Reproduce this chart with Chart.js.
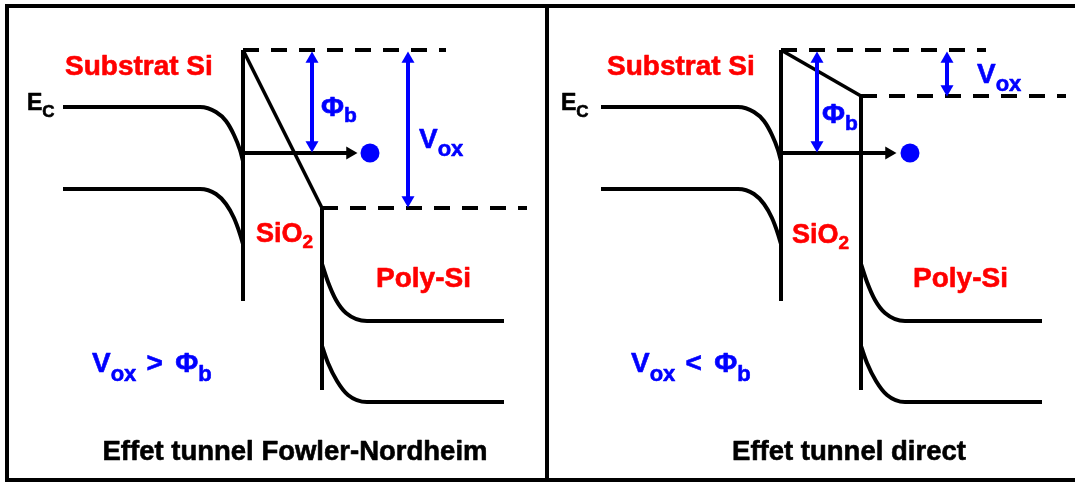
<!DOCTYPE html>
<html>
<head>
<meta charset="utf-8">
<title>Effet tunnel</title>
<script src="https://cdn.jsdelivr.net/npm/chart.js@4"></script>
<style>
  html, body { margin: 0; padding: 0; background: #fff; }
  #wrap { width: 1075px; height: 483px; }
</style>
</head>
<body>
<div id="wrap"><canvas id="bands" width="1075" height="483"></canvas></div>
<script>
// diagram coordinates (x to the right, y downward, same units as the picture)

// frame
const frameTop = [{ x: 5, y: 6 }, { x: 1075, y: 6 }];
const frameBottom = [{ x: 5, y: 480 }, { x: 1075, y: 480 }];
const frameLeft = [{ x: 7, y: 4 }, { x: 7, y: 482 }];
const frameDivider = [{ x: 547, y: 6 }, { x: 547, y: 480 }];

// --- Fowler-Nordheim (left) ---
const fnEc = [{ x: 63, y: 107 }, { x: 200, y: 107 }, { x: 216, y: 112 }, { x: 226, y: 121 }, { x: 234, y: 135 }, { x: 240, y: 150 }, { x: 243, y: 161 }];
const fnEv = [{ x: 63, y: 189 }, { x: 200, y: 189 }, { x: 216, y: 194 }, { x: 226, y: 204 }, { x: 234, y: 218 }, { x: 240, y: 234 }, { x: 243, y: 244 }];
const fnOxLeft = [{ x: 243, y: 50 }, { x: 243, y: 301 }];
const fnOxTop = [{ x: 243, y: 50 }, { x: 322, y: 208 }];
const fnOxRight = [{ x: 322, y: 208 }, { x: 322, y: 390 }];
const fnLevelTop = [{ x: 243, y: 50 }, { x: 446, y: 50 }];
const fnLevelPoly = [{ x: 322, y: 208 }, { x: 527, y: 208 }];
const fnPolyEc = [{ x: 322, y: 264 }, { x: 328, y: 282 }, { x: 336, y: 300 }, { x: 346, y: 313 }, { x: 367, y: 321 }, { x: 504, y: 321 }];
const fnPolyEv = [{ x: 322, y: 346 }, { x: 328, y: 363 }, { x: 337, y: 381 }, { x: 348, y: 395 }, { x: 367, y: 402 }, { x: 504, y: 402 }];
const fnTunnel = [{ x: 243, y: 153 }, { x: 350, y: 153 }];
const fnPhiB = [{ x: 312, y: 59 }, { x: 312, y: 145 }];
const fnVox = [{ x: 408, y: 59 }, { x: 408, y: 200 }];
const fnElectron = [{ x: 370, y: 153 }];

// --- direct (right) ---
const dtEc = [{ x: 601, y: 107 }, { x: 738, y: 107 }, { x: 754, y: 112 }, { x: 764, y: 121 }, { x: 772, y: 135 }, { x: 778, y: 150 }, { x: 781, y: 161 }];
const dtEv = [{ x: 601, y: 189 }, { x: 738, y: 189 }, { x: 754, y: 194 }, { x: 764, y: 204 }, { x: 772, y: 218 }, { x: 778, y: 234 }, { x: 781, y: 244 }];
const dtOxLeft = [{ x: 781, y: 50 }, { x: 781, y: 301 }];
const dtOxTop = [{ x: 781, y: 50 }, { x: 861, y: 96 }];
const dtOxRight = [{ x: 861, y: 96 }, { x: 861, y: 390 }];
const dtLevelTop = [{ x: 781, y: 50 }, { x: 986, y: 50 }];
const dtLevelPoly = [{ x: 861, y: 96 }, { x: 1066, y: 96 }];
const dtPolyEc = [{ x: 861, y: 264 }, { x: 867, y: 282 }, { x: 875, y: 300 }, { x: 885, y: 313 }, { x: 905, y: 321 }, { x: 1042, y: 321 }];
const dtPolyEv = [{ x: 861, y: 346 }, { x: 867, y: 363 }, { x: 876, y: 381 }, { x: 887, y: 395 }, { x: 905, y: 402 }, { x: 1042, y: 402 }];
const dtTunnel = [{ x: 781, y: 153 }, { x: 889, y: 153 }];
const dtPhiB = [{ x: 817, y: 59 }, { x: 817, y: 145 }];
const dtVox = [{ x: 947, y: 59 }, { x: 947, y: 89 }];
const dtElectron = [{ x: 910, y: 153 }];

// arrow heads
const headsUp = [{ x: 312, y: 59 }, { x: 408, y: 59 }, { x: 817, y: 59 }, { x: 947, y: 59 }];
const headsDown = [{ x: 312, y: 145 }, { x: 408, y: 200 }, { x: 817, y: 145 }, { x: 947, y: 89 }];
const headsRight = [{ x: 350, y: 153 }, { x: 889, y: 153 }];

const RED = "#ff0000";
const BLUE = "#0000ff";
const BLACK = "#000000";
const FONT = "'Liberation Sans', Arial, Helvetica, sans-serif";

// texts: parts are [text, isSubscript]
const annotations = [
  { x: 65, y: 75, color: RED, size: 28, parts: [["Substrat Si"]] },
  { x: 607, y: 75, color: RED, size: 28, parts: [["Substrat Si"]] },
  { x: 27, y: 110, color: BLACK, size: 23, sub: 17, dy: 7, parts: [["E"], ["C", 1]] },
  { x: 561, y: 110, color: BLACK, size: 23, sub: 17, dy: 7, parts: [["E"], ["C", 1]] },
  { x: 256, y: 242, color: RED, size: 27, sub: 19, dy: 6, parts: [["SiO"], ["2", 1]] },
  { x: 792, y: 243, color: RED, size: 27, sub: 19, dy: 6, parts: [["SiO"], ["2", 1]] },
  { x: 376, y: 287, color: RED, size: 28, parts: [["Poly-Si"]] },
  { x: 913, y: 287, color: RED, size: 28, parts: [["Poly-Si"]] },
  { x: 321, y: 116, color: BLUE, size: 28, sub: 21, dy: 6, parts: [["Φ"], ["b", 1]] },
  { x: 822, y: 123, color: BLUE, size: 28, sub: 21, dy: 7, parts: [["Φ"], ["b", 1]] },
  { x: 419, y: 148, color: BLUE, size: 28, sub: 22, dy: 8, parts: [["V"], ["ox", 1]] },
  { x: 977, y: 83, color: BLUE, size: 28, sub: 22, dy: 8, parts: [["V"], ["ox", 1]] },
  { x: 92, y: 372, color: BLUE, size: 28, sub: 22, dy: 9, parts: [["V"], ["ox", 1], [" \u200A> \u200A\u200AΦ"], ["b", 1]] },
  { x: 631, y: 372, color: BLUE, size: 28, sub: 22, dy: 9, parts: [["V"], ["ox", 1], [" \u200A< \u200A\u200AΦ"], ["b", 1]] },
  { x: 295, y: 460, align: "center", color: BLACK, size: 27.5, parts: [["Effet tunnel Fowler-Nordheim"]] },
  { x: 849, y: 460, align: "center", color: BLACK, size: 27.5, parts: [["Effet tunnel direct"]] }
];

function solid(data, extra) {
  return Object.assign({
    data,
    showLine: true,
    pointRadius: 0,
    borderColor: BLACK,
    borderWidth: 4,
    tension: 0,
    fill: false
  }, extra || {});
}

function curve(data) {
  return solid(data, { cubicInterpolationMode: "monotone" });
}

function heads(data, rotation, color) {
  return {
    data,
    showLine: false,
    pointStyle: "triangle",
    pointRotation: rotation,
    pointRadius: 7.5,
    pointBorderWidth: 0,
    backgroundColor: color,
    borderColor: color
  };
}

const labelPlugin = {
  id: "labelPlugin",
  afterDatasetsDraw(chart) {
    const { ctx, scales: { x, y } } = chart;
    ctx.save();
    ctx.textBaseline = "alphabetic";
    ctx.textAlign = "left";
    ctx.lineJoin = "round";
    ctx.lineWidth = 0.6;
    annotations.forEach(a => {
      const fontOf = p => "bold " + (p[1] ? a.sub : a.size) + "px " + FONT;
      let width = 0;
      a.parts.forEach(p => {
        ctx.font = fontOf(p);
        width += ctx.measureText(p[0]).width;
      });
      let px = x.getPixelForValue(a.x);
      const py = y.getPixelForValue(a.y);
      if (a.align === "center") px -= width / 2;
      ctx.fillStyle = a.color;
      ctx.strokeStyle = a.color;
      a.parts.forEach(p => {
        ctx.font = fontOf(p);
        const ty = py + (p[1] ? a.dy : 0);
        ctx.fillText(p[0], px, ty);
        ctx.strokeText(p[0], px, ty);
        px += ctx.measureText(p[0]).width;
      });
    });
    ctx.restore();
  }
};

new Chart(document.getElementById("bands").getContext("2d"), {
  type: "scatter",
  data: {
    datasets: [
      // heads and electrons on top
      heads(headsUp, 0, BLUE),
      heads(headsDown, 180, BLUE),
      heads(headsRight, 90, BLACK),
      { data: fnElectron.concat(dtElectron), pointRadius: 9.5, pointBorderWidth: 0, backgroundColor: BLUE, borderColor: BLUE },

      solid(fnPhiB, { borderColor: BLUE }),
      solid(fnVox, { borderColor: BLUE }),
      solid(dtPhiB, { borderColor: BLUE }),
      solid(dtVox, { borderColor: BLUE }),
      solid(fnTunnel),
      solid(dtTunnel),

      solid(fnLevelTop, { borderDash: [16, 12] }),
      solid(fnLevelPoly, { borderDash: [16, 12] }),
      solid(dtLevelTop, { borderDash: [16, 12] }),
      solid(dtLevelPoly, { borderDash: [16, 12] }),

      curve(fnEc),
      curve(fnEv),
      curve(fnPolyEc),
      curve(fnPolyEv),
      solid(fnOxLeft),
      solid(fnOxTop, { borderWidth: 3.5 }),
      solid(fnOxRight),

      curve(dtEc),
      curve(dtEv),
      curve(dtPolyEc),
      curve(dtPolyEv),
      solid(dtOxLeft),
      solid(dtOxTop, { borderWidth: 3.5 }),
      solid(dtOxRight),

      solid(frameTop),
      solid(frameBottom),
      solid(frameLeft),
      solid(frameDivider)
    ]
  },
  options: {
    responsive: false,
    animation: false,
    events: [],
    layout: { padding: 0, autoPadding: false },
    scales: {
      x: { type: "linear", min: 0, max: 1075, display: false },
      y: { type: "linear", min: 0, max: 483, reverse: true, display: false }
    },
    plugins: {
      legend: { display: false },
      tooltip: { enabled: false },
      title: { display: false }
    }
  },
  plugins: [labelPlugin]
});
</script>
</body>
</html>
